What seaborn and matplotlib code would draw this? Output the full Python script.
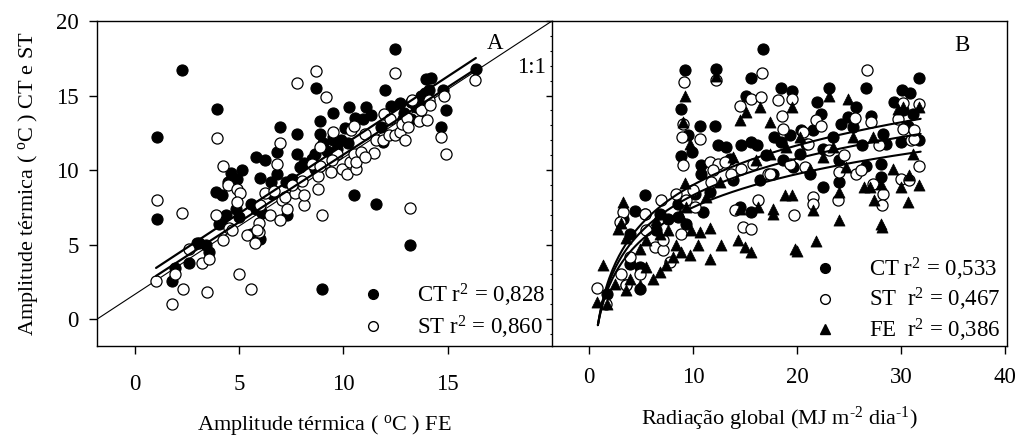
import numpy as np
import pandas as pd
import matplotlib
matplotlib.use("Agg")
import matplotlib.pyplot as plt
import seaborn as sns
from matplotlib.lines import Line2D

# ---------------- data: panel A (x = FE amplitude) ----------------
a_ct_x = [1.06, 1.06, 2.27, 3.97, 12.46, 16.35, 8.7, 7.78, 6.98, 5.8, 6.27, 5.16, 4.6, 4.92, 4.5,
          3.9, 4.2, 4.37, 4.13, 4.84, 5.56, 5.56, 6.03, 6.1, 6.03, 6.56, 6.83, 6.83, 7.78, 7.25,
          7.3, 7.94, 8.14, 8.65, 8.89, 8.9, 9.5, 9.5, 9.9, 10.08, 10.24, 10.29, 10.56, 10.95, 11.08,
          11.35, 10.52, 11.56, 11.98, 12.27, 12.7, 13.25, 13.2, 13.73, 13.97, 14.2, 14.13, 13.68,
          14.68, 14.8, 14.92, 8.97, 1.78, 1.95, 2.62, 3.0, 3.4, 3.57, 11.9, 13.25, 12.86, 11.8,
          9.2, 9.7, 8.5, 7.54, 8.65, 6.59, 5.8, 5.0, 4.05, 3.1, 13.9, 13.5, 12.9, 9.52, 9.05]
a_ct_y = [12.2, 6.74, 16.7, 14.1, 18.1, 16.8, 15.5, 12.4, 12.9, 10.9, 10.7, 10.0, 9.8, 9.4, 9.2,
          8.5, 8.3, 7.0, 6.5, 7.4, 7.75, 5.7, 5.4, 7.1, 9.5, 9.2, 9.75, 11.2, 11.1, 9.2,
          7.0, 10.2, 10.5, 11.1, 13.3, 12.4, 13.8, 12.0, 12.0, 12.8, 11.8, 14.2, 13.5, 13.4, 14.2,
          13.7, 8.35, 7.7, 15.4, 14.3, 14.5, 14.55, 4.95, 15.0, 16.1, 16.2, 15.4, 14.7,
          12.9, 15.4, 14.0, 2.05, 2.57, 3.44, 3.77, 5.1, 4.96, 4.5, 11.9, 13.4, 13.4, 12.9,
          11.3, 11.4, 10.75, 9.4, 10.1, 8.4, 7.4, 6.85, 6.4, 5.1, 15.2, 14.2, 13.8, 12.2, 11.8]

a_st_x = [1.06, 1.03, 1.79, 1.95, 2.27, 2.3, 2.59, 3.25, 3.49, 3.57, 3.94, 3.9, 4.24, 4.24, 4.49,
          4.52, 4.9, 5.03, 4.92, 5.0, 5.4, 5.59, 5.79, 5.98, 6.03, 5.95, 6.27, 6.51, 6.67, 6.83,
          6.98, 6.95, 7.06, 7.22, 7.3, 7.78, 7.7, 8.1, 8.13, 8.49, 8.68, 8.78, 8.78, 8.89, 8.89,
          9.0, 9.16, 9.4, 9.49, 9.68, 9.92, 10.16, 10.32, 10.35, 10.52, 10.6, 10.63, 10.52, 10.87,
          11.06, 11.46, 11.59, 11.95, 11.9, 12.17, 12.22, 12.46, 12.46, 12.7, 12.81, 13.06, 13.1,
          13.2, 13.3, 13.65, 13.73, 14.02, 14.13, 14.16, 14.68, 14.81, 14.92, 16.3, 12.94, 11.03,
          9.44, 8.02, 7.54, 5.87, 4.68]
a_st_y = [7.97, 2.54, 1.0, 3.0, 7.14, 2.05, 4.73, 3.79, 1.83, 4.06, 12.14, 7.0, 10.27, 5.29, 8.97,
          6.14, 8.75, 8.48, 7.86, 3.06, 5.67, 2.05, 5.13, 6.45, 7.63, 5.85, 8.46, 7.0, 8.6, 10.42,
          11.8, 6.63, 7.97, 8.19, 7.41, 15.83, 8.46, 7.63, 8.3, 10.42, 16.67, 8.75, 9.58, 11.54, 10.27,
          6.96, 14.89, 9.87, 12.54, 11.09, 10.09, 9.75, 10.54, 12.66, 11.09, 10.09, 10.54, 12.99, 11.2,
          12.43, 11.14, 11.99, 13.73, 11.99, 12.32, 13.44, 16.52, 12.37, 12.54, 13.06, 13.5, 12.88,
          7.48, 14.67, 13.28, 14.0, 13.39, 14.67, 14.37, 12.21, 14.96, 11.09, 16.05, 11.99, 10.87,
          10.65, 9.3, 8.97, 5.96, 5.96]

# reference line ("1:1") endpoints and linear fits (slope, intercept, x range)
ref_x = [-1.8, 20.0]
ref_y = [0.0, 20.0]
fit_ct_lin = [0.919, 2.49]
fit_st_lin = [0.906, 1.97]
fit_ct_xrange = [1.03, 16.35]
fit_st_xrange = [1.03, 16.2]

# ---------------- data: panel B (x = global radiation) ----------------
b_ct_x = [9.21, 12.19, 16.73, 15.61, 18.49, 19.55, 23.13, 26.65, 30.1, 30.9, 31.77, 15.13, 21.91,
          25.69, 29.37, 8.89, 9.53, 10.65, 12.09, 12.4, 13.21, 8.89, 9.95, 10.81, 10.75, 13.53,
          14.65, 15.61, 16.19, 17.05, 17.75, 18.49, 19.29, 20.41, 20.89, 21.53, 22.33, 23.45, 24.25,
          24.89, 25.37, 26.27, 27.13, 28.25, 30.01, 30.65, 31.77, 31.13, 28.09, 28.09, 26.65, 24.09,
          22.49, 21.21, 19.61, 17.69, 16.41, 15.61, 14.49, 13.85, 11.61, 10.17, 8.56, 7.61, 6.49,
          5.37, 4.41, 5.37, 3.93, 3.93, 4.89, 4.89, 3.61, 1.7, 3.29, 6.81, 8.54, 9.37, 10.97,
          24.09, 22.49, 20.25, 18.65, 28.57, 30.17]
b_ct_y = [16.74, 16.79, 18.13, 16.16, 15.49, 15.33, 15.49, 15.51, 15.4, 15.18, 16.16, 15.0, 14.55,
          14.26, 14.55, 14.1, 12.32, 12.99, 12.93, 11.65, 11.54, 10.92, 11.21, 10.31, 9.75, 10.76,
          11.65, 11.88, 11.65, 10.98, 12.21, 11.88, 12.32, 12.66, 11.76, 12.66, 13.77, 12.21, 13.1,
          13.55, 12.88, 11.65, 13.66, 12.43, 11.88, 12.99, 11.99, 13.77, 10.42, 9.53, 10.25, 9.2,
          8.86, 9.75, 10.2, 9.75, 9.31, 7.19, 7.52, 9.31, 8.53, 8.41, 7.75, 6.74, 5.96,
          8.3, 7.25, 7.08, 5.74, 3.73, 3.5, 2.05, 2.28, 1.72, 6.74, 7.08, 6.85, 6.41, 7.19,
          10.65, 11.43, 11.09, 10.65, 11.76, 14.0]

b_st_x = [9.15, 12.19, 16.67, 26.74, 14.49, 15.61, 16.57, 18.17, 19.55, 25.62, 30.17, 31.77, 9.05,
          8.99, 9.05, 10.65, 11.61, 12.41, 13.05, 11.71, 10.01, 8.41, 6.97, 5.37, 3.29, 2.97, 3.93,
          3.13, 3.61, 4.89, 0.74, 1.63, 5.53, 6.33, 7.13, 7.77, 7.13, 8.86, 9.33, 14.01, 14.81,
          15.61, 16.25, 17.21, 18.65, 18.59, 19.71, 19.29, 20.57, 20.73, 21.85, 22.33, 21.53, 21.53,
          23.93, 24.09, 24.57, 25.69, 26.17, 27.13, 27.29, 27.93, 28.25, 28.19, 29.69, 30.17, 30.01,
          30.75, 30.97, 31.29, 31.71, 31.29, 23.13, 21.05, 14.65, 15.77, 17.37, 13.69, 11.93, 10.17]
b_st_y = [15.89, 16.07, 16.52, 16.74, 14.33, 14.78, 14.89, 14.67, 14.78, 13.5, 14.49, 14.44, 13.1,
          12.21, 10.31, 12.1, 10.54, 10.42, 10.54, 9.2, 8.64, 8.41, 7.97, 7.08, 7.19, 6.52, 4.17,
          3.06, 2.28, 3.06, 2.12, 1.05, 5.96, 4.84, 4.62, 3.84, 5.29, 5.74, 7.97, 7.3, 6.18,
          6.07, 7.97, 9.75, 12.77, 13.66, 6.96, 10.42, 12.54, 10.2, 13.33, 12.99, 8.19, 7.75,
          7.97, 9.87, 10.98, 9.75, 9.98, 13.21, 9.08, 11.65, 8.41, 7.63, 13.44, 12.77, 9.42,
          9.31, 11.99, 12.1, 10.27, 12.66, 11.32, 11.76, 10.09, 10.42, 9.75, 9.75, 9.98, 7.52]

b_fe_x = [9.21, 12.19, 14.49, 15.13, 16.41, 17.37, 19.55, 23.13, 24.89, 29.69, 31.77, 30.17, 9.05,
          9.69, 9.21, 3.29, 3.13, 2.82, 3.61, 1.31, 0.74, 1.7, 2.5, 3.61, 4.89, 3.93, 4.89, 5.53,
          6.17, 6.81, 7.45, 8.09, 8.89, 9.69, 10.49, 11.61, 12.73, 14.33, 14.97, 15.61, 19.77,
          19.99, 21.85, 24.09, 28.19, 28.09, 17.69, 17.69, 16.25, 14.49, 11.61, 10.65, 9.85, 7.61,
          6.49, 5.53, 6.81, 8.41, 18.81, 19.55, 21.53, 24.09, 26.41, 27.05, 27.37, 28.09, 30.01,
          30.65, 31.77, 30.81, 24.73, 22.49, 25.37, 27.29, 29.21, 31.13, 20.25, 18.97, 17.37, 16.09,
          13.85, 12.57, 11.29, 9.37, 8.73, 23.45, 21.21]
b_fe_y = [15.0, 16.34, 13.33, 13.88, 14.22, 13.21, 14.26, 15.0, 14.78, 14.1, 14.26, 14.2, 13.21,
          11.76, 9.13, 7.86, 6.45, 6.07, 5.47, 3.62, 1.16, 1.05, 2.39, 1.94, 2.28, 2.72, 4.73, 3.5,
          2.72, 3.17, 3.62, 4.17, 4.51, 4.29, 4.96, 4.06, 4.96, 5.29, 4.84, 4.51, 4.73,
          4.58, 5.25, 6.63, 6.18, 6.41, 7.08, 7.41, 7.52, 7.41, 6.12, 5.85, 5.96, 5.96,
          6.63, 5.29, 5.74, 4.96, 8.3, 8.3, 7.3, 8.53, 8.86, 8.86, 7.97, 9.08, 8.86,
          7.86, 8.97, 9.64, 10.2, 10.87, 12.21, 12.21, 10.09, 11.09, 12.21, 11.54, 11.09, 10.65,
          10.87, 9.2, 8.19, 7.52, 7.08, 11.54, 10.09]

# logarithmic fits y = a + b*ln(x)
fit_ct_log = [0.178, 3.83]
fit_st_log = [0.136, 3.55]
fit_fe_log = [0.086, 3.22]
fit_log_xrange = [0.86, 31.9]

legend_a = ["CT r$^2$ = 0,828", "ST r$^2$ = 0,860"]
legend_b = ["CT r$^2$ = 0,533", "ST  r$^2$ = 0,467", "FE  r$^2$ = 0,386"]

# ---------------- style ----------------
sns.set_theme(style="ticks")
plt.rcParams["font.family"] = ["Liberation Serif", "DejaVu Serif"]
plt.rcParams["mathtext.fontset"] = "custom"
plt.rcParams["mathtext.rm"] = "Liberation Serif"
plt.rcParams["mathtext.it"] = "Liberation Serif:italic"
plt.rcParams["mathtext.bf"] = "Liberation Serif:bold"
plt.rcParams["axes.edgecolor"] = "black"
plt.rcParams["axes.linewidth"] = 1.0
plt.rcParams["xtick.color"] = "black"
plt.rcParams["ytick.color"] = "black"
plt.rcParams["text.color"] = "black"
plt.rcParams["axes.labelcolor"] = "black"

TICK_FS = 16.5
LABEL_FS = 16
LEG_FS = 16.5
MS = 64  # scatter marker size

fig = plt.figure(figsize=(10.25, 4.4), dpi=100)
ax1 = fig.add_axes([97 / 1025, 1 - 346 / 440, 455 / 1025, 325 / 440])
ax2 = fig.add_axes([552 / 1025, 1 - 346 / 440, 455 / 1025, 325 / 440])

# ---------------- panel A ----------------
dfa_ct = pd.DataFrame({"x": a_ct_x, "y": a_ct_y})
dfa_st = pd.DataFrame({"x": a_st_x, "y": a_st_y})
sns.lineplot(x=ref_x, y=ref_y, ax=ax1, color="black", lw=0.8, zorder=1)
sns.scatterplot(data=dfa_ct, x="x", y="y", ax=ax1, marker="o", s=MS, color="black",
                edgecolor="black", linewidth=0.8, zorder=2)
sns.scatterplot(data=dfa_st, x="x", y="y", ax=ax1, marker="o", s=MS, color="white",
                edgecolor="black", linewidth=0.9, zorder=3)
for (m, c), xr in ((fit_ct_lin, fit_ct_xrange), (fit_st_lin, fit_st_xrange)):
    xl = np.array(xr)
    sns.lineplot(x=xl, y=m * xl + c, ax=ax1, color="black", lw=1.6, zorder=4)

ax1.set_xlim(-1.8, 20)
ax1.set_ylim(-1.8, 20)
ax1.set_xticks([0, 5, 10, 15])
ax1.set_yticks([0, 5, 10, 15, 20])
ax1.tick_params(axis="x", labelsize=TICK_FS, length=6, width=1, direction="out", pad=14)
ax1.tick_params(axis="y", labelsize=TICK_FS, length=6, width=1, direction="out", pad=7)
ax1.spines["right"].set_visible(False)
ax1.set_xlabel("Amplitude térmica ( $^{\\mathrm{o}}$C ) FE", fontsize=LABEL_FS, labelpad=13)
ax1.set_ylabel("Amplitude térmica ( $^{\\mathrm{o}}$C ) CT e ST", fontsize=LABEL_FS, labelpad=12)
ax1.text(0.875, 0.932, "A", transform=ax1.transAxes, fontsize=LEG_FS, ha="center", va="center")
ax1.text(0.956, 0.858, "1:1", transform=ax1.transAxes, fontsize=LEG_FS, ha="center", va="center")

h_a = [Line2D([], [], ls="none", marker="o", ms=7, mfc="black", mec="black"),
       Line2D([], [], ls="none", marker="o", ms=7, mfc="white", mec="black")]
ax1.legend(h_a, legend_a, loc="lower right", bbox_to_anchor=(1.0, -0.005), frameon=False,
           fontsize=LEG_FS, handletextpad=1.3, labelspacing=0.22, borderaxespad=0.0,
           borderpad=0.3, handlelength=1.2)

# ---------------- panel B ----------------
dfb_ct = pd.DataFrame({"x": b_ct_x, "y": b_ct_y})
dfb_st = pd.DataFrame({"x": b_st_x, "y": b_st_y})
dfb_fe = pd.DataFrame({"x": b_fe_x, "y": b_fe_y})
sns.scatterplot(data=dfb_ct, x="x", y="y", ax=ax2, marker="o", s=MS, color="black",
                edgecolor="black", linewidth=0.8, zorder=2)
sns.scatterplot(data=dfb_st, x="x", y="y", ax=ax2, marker="o", s=MS, color="white",
                edgecolor="black", linewidth=0.9, zorder=3)
sns.scatterplot(data=dfb_fe, x="x", y="y", ax=ax2, marker="^", s=MS, color="black",
                edgecolor="black", linewidth=0.5, zorder=3)
xc = np.linspace(fit_log_xrange[0], fit_log_xrange[1], 200)
for a, b in (fit_ct_log, fit_st_log, fit_fe_log):
    sns.lineplot(x=xc, y=a + b * np.log(xc), ax=ax2, color="black", lw=1.5, zorder=4)

ax2.set_xlim(-3.55, 40.2)
ax2.set_ylim(-1.8, 20)
ax2.set_xticks([0, 10, 20, 30, 40])
ax2.set_yticks([0, 5, 10, 15, 20])
ax2.set_yticks(np.arange(-1, 20, 1), minor=True)
ax2.tick_params(axis="x", labelsize=TICK_FS, length=6, width=1, direction="out", pad=9)
ax2.tick_params(axis="y", which="major", length=4, width=1, direction="out", labelleft=False)
ax2.tick_params(axis="y", which="minor", length=1.5, width=0.8, direction="out", labelleft=False)
ax2.set_xlabel("Radiação global (MJ m$^{\u20102}$ dia$^{\u20101}$)", fontsize=LABEL_FS, labelpad=12)
ax2.set_ylabel("")
ax2.text(0.901, 0.926, "B", transform=ax2.transAxes, fontsize=LEG_FS, ha="center", va="center")

h_b = [Line2D([], [], ls="none", marker="o", ms=7, mfc="black", mec="black"),
       Line2D([], [], ls="none", marker="o", ms=7, mfc="white", mec="black"),
       Line2D([], [], ls="none", marker="^", ms=7, mfc="black", mec="black")]
ax2.legend(h_b, legend_b, loc="lower right", bbox_to_anchor=(1.0, -0.015), frameon=False,
           fontsize=LEG_FS, handletextpad=1.3, labelspacing=0.15, borderaxespad=0.0,
           borderpad=0.3, handlelength=1.2)

fig.savefig("out.png", dpi=100)
